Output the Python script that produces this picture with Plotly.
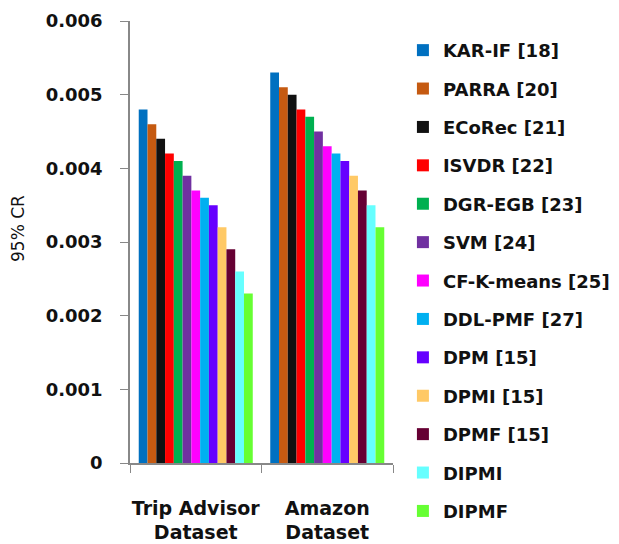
import plotly.graph_objects as go

categories = ["Trip Advisor<br>Dataset", "Amazon<br>Dataset"]
methods = ["KAR-IF [18]", "PARRA [20]", "ECoRec [21]", "ISVDR [22]", "DGR-EGB [23]",
           "SVM [24]", "CF-K-means [25]", "DDL-PMF [27]", "DPM [15]", "DPMI [15]",
           "DPMF [15]", "DIPMI", "DIPMF"]
trip_advisor = [0.0048, 0.0046, 0.0044, 0.0042, 0.0041, 0.0039, 0.0037, 0.0036,
                0.0035, 0.0032, 0.0029, 0.0026, 0.0023]
amazon = [0.0053, 0.0051, 0.0050, 0.0048, 0.0047, 0.0045, 0.0043, 0.0042,
          0.0041, 0.0039, 0.0037, 0.0035, 0.0032]
colors = ["#0070C0", "#C55A11", "#111111", "#FF0000", "#00B050", "#7030A0",
          "#FF00FF", "#00B0F0", "#6600FF", "#FFC966", "#660033", "#66FFFF", "#66FF33"]
tick_vals = [0, 0.001, 0.002, 0.003, 0.004, 0.005, 0.006]
tick_text = ["0", "0.001", "0.002", "0.003", "0.004", "0.005", "0.006"]

FONT = "DejaVu Sans"

fig = go.Figure()
for i, m in enumerate(methods):
    fig.add_trace(go.Bar(
        x=categories, y=[trip_advisor[i], amazon[i]], name=m,
        marker=dict(color=colors[i], line=dict(width=0)),
        legendgroup=m,
    ))

fig.update_layout(
    width=619, height=544,
    margin=dict(l=122, r=234, t=13, b=89),
    paper_bgcolor="white", plot_bgcolor="white",
    barmode="group", bargap=0.133, bargroupgap=0,
    font=dict(family=FONT, color="#111111"),
    showlegend=True,
    legend=dict(
        x=0.638, xref="container", xanchor="left",
        y=0.956, yref="container", yanchor="top",
        font=dict(family=FONT, size=18, weight="bold", color="#111111"),
        tracegroupgap=12, itemclick=False, maxheight=540,
        bgcolor="rgba(0,0,0,0)",
    ),
    xaxis=dict(
        showline=True, linecolor="#888888", linewidth=1.5,
        ticks="outside", tickson="boundaries", ticklen=8, tickcolor="#888888",
        tickangle=0, automargin=False, ticklabelstandoff=27,
        tickfont=dict(family=FONT, size=19, weight="bold", color="#111111"),
        showgrid=False,
    ),
    yaxis=dict(
        range=[0, 0.006], tickvals=tick_vals, ticktext=tick_text,
        showline=True, linecolor="#888888", linewidth=1.5,
        ticks="outside", ticklen=8, tickcolor="#888888",
        ticklabelstandoff=14, automargin=False,
        tickfont=dict(family=FONT, size=18, weight="bold", color="#111111"),
        showgrid=False, zeroline=False,
    ),
    annotations=[dict(
        text="95% CR", xref="paper", yref="paper",
        x=(18 - 130) / 263, y=(463 - 229) / 442,
        xanchor="center", yanchor="middle",
        showarrow=False, textangle=-90,
        font=dict(family=FONT, size=17, color="#111111"),
    )],
)

fig.write_html("out.html")
